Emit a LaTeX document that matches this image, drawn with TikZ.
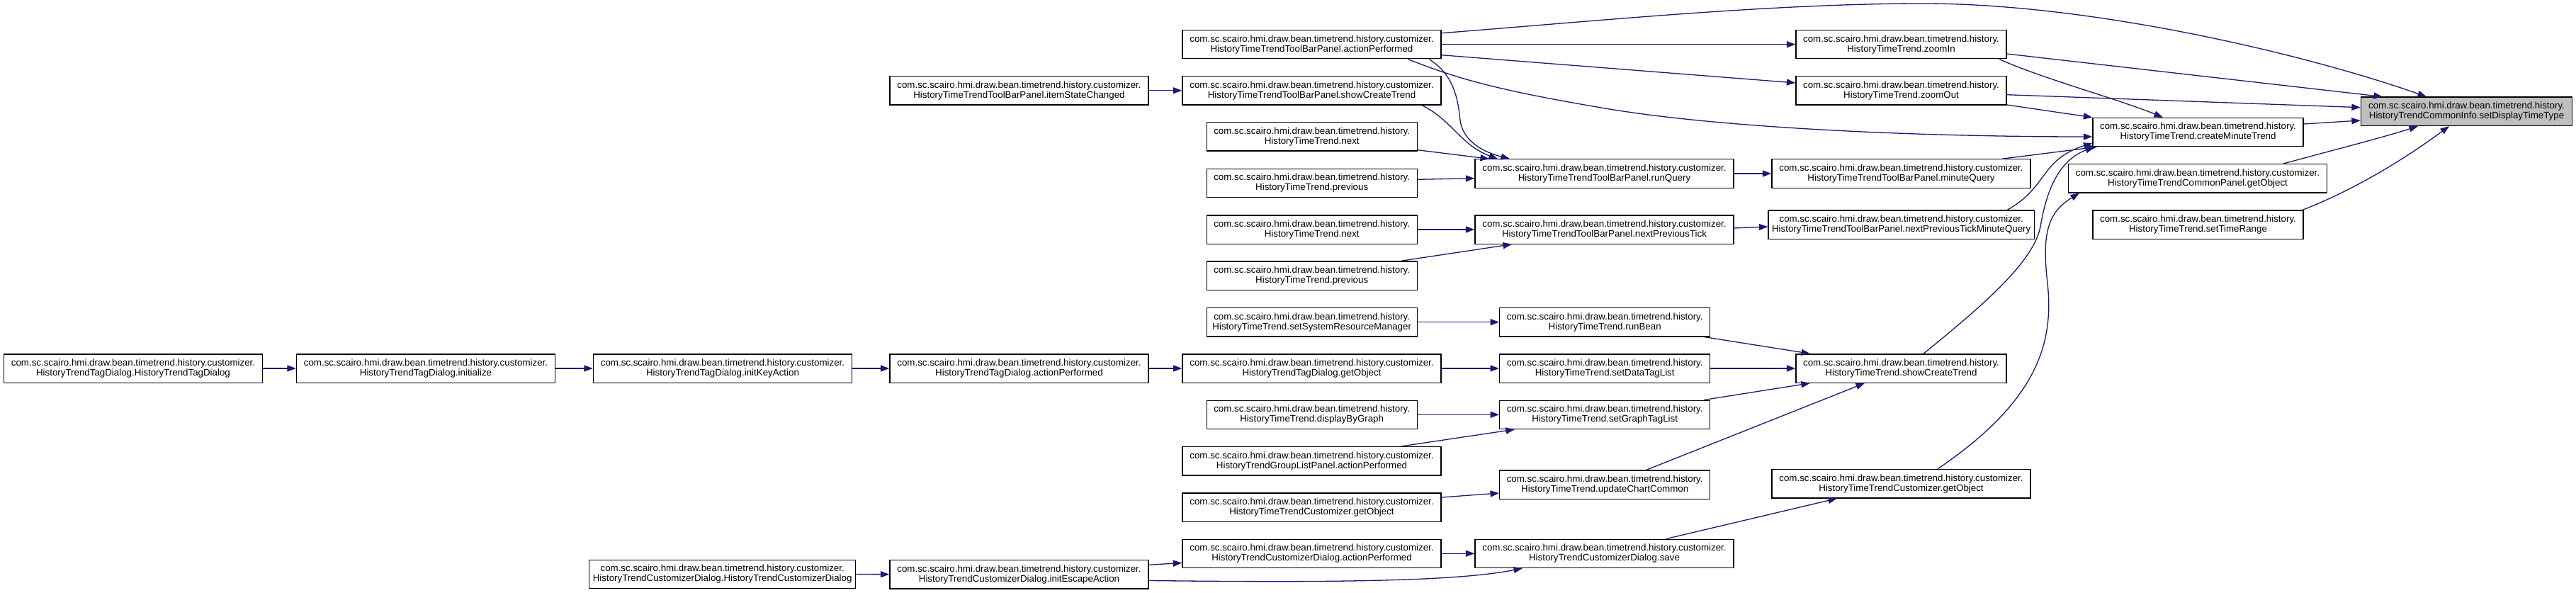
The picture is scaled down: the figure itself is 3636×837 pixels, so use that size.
\documentclass[tikz,border=0pt]{standalone}
\usepackage{fontspec}
\setmainfont{Liberation Sans}
\usetikzlibrary{arrows.meta}
\definecolor{edgeblue}{HTML}{191970}
\definecolor{hlgray}{HTML}{BFBFBF}
\newcommand\hpre{com.sc.scairo.hmi.draw.bean.timetrend.history.}
\newcommand\cpre{com.sc.scairo.hmi.draw.bean.timetrend.history.customizer.}
\begin{document}
\begin{tikzpicture}[x=1pt,y=-1pt,
  fnode/.style={draw=black, line width=1.3pt, fill=white, inner sep=0pt,
    minimum height=40.3pt, align=center, font=\fontsize{13.33}{14}\selectfont},
  wA/.style={fnode, minimum width=365pt},
  wB/.style={fnode, minimum width=297pt},
  edge/.style={draw=edgeblue, line width=1.3pt, -{Triangle[length=12.5pt,width=9pt]}}]
\useasboundingbox (0,0) rectangle (3636,837);
% column 1-4 (left)
\node[wA] (tdHTD) at (188,520) {\cpre\\HistoryTrendTagDialog.HistoryTrendTagDialog};
\node[wA] (tdInit) at (601,520) {\cpre\\HistoryTrendTagDialog.initialize};
\node[wA] (tdIKA) at (1020,520) {\cpre\\HistoryTrendTagDialog.initKeyAction};
\node[fnode, minimum width=376pt] (cdHTCD) at (1019.7,810.5) {\cpre\\HistoryTrendCustomizerDialog.HistoryTrendCustomizerDialog};
\node[wA] (tbISC) at (1438.5,127.8) {\cpre\\HistoryTimeTrendToolBarPanel.itemStateChanged};
\node[wA] (tdAP) at (1438.5,520) {\cpre\\HistoryTrendTagDialog.actionPerformed};
\node[wA] (cdIEA) at (1438.5,810.7) {\cpre\\HistoryTrendCustomizerDialog.initEscapeAction};
% column 5
\node[wA] (tbAP) at (1851.5,62.7) {\cpre\\HistoryTimeTrendToolBarPanel.actionPerformed};
\node[wA] (tbSCT) at (1851.5,127.8) {\cpre\\HistoryTimeTrendToolBarPanel.showCreateTrend};
\node[wB] (next1) at (1851.7,193) {\hpre\\HistoryTimeTrend.next};
\node[wB] (prev1) at (1851.7,258.5) {\hpre\\HistoryTimeTrend.previous};
\node[wB] (next2) at (1851.7,324) {\hpre\\HistoryTimeTrend.next};
\node[wB] (prev2) at (1851.7,389) {\hpre\\HistoryTimeTrend.previous};
\node[wB] (sSRM) at (1851.7,454.7) {\hpre\\HistoryTimeTrend.setSystemResourceManager};
\node[wA] (tdGO) at (1851.5,520) {\cpre\\HistoryTrendTagDialog.getObject};
\node[wB] (dBG) at (1851.7,585.3) {\hpre\\HistoryTimeTrend.displayByGraph};
\node[wA] (glpAP) at (1851.5,650.7) {\cpre\\HistoryTrendGroupListPanel.actionPerformed};
\node[wA] (custGOa) at (1851.5,716) {\cpre\\HistoryTimeTrendCustomizer.getObject};
\node[wA] (cdAP) at (1851.5,781.3) {\cpre\\HistoryTrendCustomizerDialog.actionPerformed};
% column 6
\node[wA] (runQ) at (2264.5,245) {\cpre\\HistoryTimeTrendToolBarPanel.runQuery};
\node[wA] (nPT) at (2264.5,324) {\cpre\\HistoryTimeTrendToolBarPanel.nextPreviousTick};
\node[wB] (runBean) at (2265.2,454.7) {\hpre\\HistoryTimeTrend.runBean};
\node[wB] (sDTL) at (2265.2,520) {\hpre\\HistoryTimeTrend.setDataTagList};
\node[wB] (sGTL) at (2265.2,585.3) {\hpre\\HistoryTimeTrend.setGraphTagList};
\node[wB] (uCC) at (2265.2,684) {\hpre\\HistoryTimeTrend.updateChartCommon};
\node[wA] (cdSave) at (2264.5,781.3) {\cpre\\HistoryTrendCustomizerDialog.save};
% column 7
\node[wB] (zoomIn) at (2683.5,62.7) {\hpre\\HistoryTimeTrend.zoomIn};
\node[wB] (zoomOut) at (2683.5,127.8) {\hpre\\HistoryTimeTrend.zoomOut};
\node[wA] (minQ) at (2683.5,245) {\cpre\\HistoryTimeTrendToolBarPanel.minuteQuery};
\node[fnode, minimum width=375.4pt] (nPTMQ) at (2683.7,317.2) {\cpre\\HistoryTimeTrendToolBarPanel.nextPreviousTickMinuteQuery};
\node[wB] (hSCT) at (2683.5,520) {\hpre\\HistoryTimeTrend.showCreateTrend};
\node[wA] (custGOb) at (2683.5,682.7) {\cpre\\HistoryTimeTrendCustomizer.getObject};
% column 8
\node[wB] (cMT) at (3102.5,186.5) {\hpre\\HistoryTimeTrend.createMinuteTrend};
\node[wA] (cpGO) at (3102,251.8) {\cpre\\HistoryTimeTrendCommonPanel.getObject};
\node[wB] (sTR) at (3102.5,317.2) {\hpre\\HistoryTimeTrend.setTimeRange};
% column 9
\node[fnode, fill=hlgray, minimum width=298pt] (sDTT) at (3481.5,157.3) {\hpre\\HistoryTrendCommonInfo.setDisplayTimeType};
% edges
\draw[edge] (tbAP.east |- 0,46.7) .. controls (2250,30) and (2500,5) .. (2715,5) .. controls (2950,5) and (3250,75) .. (3425,0 |- sDTT.north);
\draw[edge] (tbAP.east) -- (zoomIn.west);
\draw[edge] (tbAP.east |- 0,77.7) -- (zoomOut.west |- 0,117);
\draw[edge] (1987,0 |- tbAP.south) .. controls (2050,108) and (2100,125) .. (2260,152) .. controls (2420,180) and (2700,193) .. (cMT.west |- 0,193);
\draw[edge] (2017,0 |- tbAP.south) .. controls (2052,105) and (2058,140) .. (2061,170) .. controls (2065,200) and (2095,215) .. (2131,0 |- runQ.north);
\draw[edge] (2007,0 |- tbSCT.south) .. controls (2050,170) and (2062,205) .. (2114,0 |- runQ.north);
\draw[edge] (next1.east |- 0,211.7) -- (2102,0 |- runQ.north);
\draw[edge] (prev1.east |- 0,253.3) -- (runQ.west |- 0,251.7);
\draw[edge] (tbISC.east) -- (tbSCT.west);
\draw[edge] (next2.east) -- (nPT.west);
\draw[edge] (1978,0 |- prev2.north) -- (2134,0 |- nPT.south);
\draw[edge] (runQ.east) -- (minQ.west);
\draw[edge] (nPT.east |- 0,322) -- (nPTMQ.west |- 0,320);
\draw[edge] (zoomIn.east |- 0,76) -- (3363,0 |- sDTT.north);
\draw[edge] (2822,0 |- zoomIn.south) .. controls (2880,110) and (2990,140) .. (3053,0 |- cMT.north);
\draw[edge] (zoomOut.east |- 0,133.7) -- (sDTT.west |- 0,151.7);
\draw[edge] (zoomOut.east |- 0,148) -- (cMT.north west);
\draw[edge] (cMT.east |- 0,175) -- (sDTT.west |- 0,170);
\draw[edge] (2826,0 |- minQ.north) -- (2960,0 |- cMT.south);
\draw[edge] (2833,0 |- nPTMQ.north) .. controls (2890,265) and (2880,225) .. (cMT.west |- 0,202);
\draw[edge] (2715,0 |- hSCT.north) .. controls (2800,430) and (2870,370) .. (2880,320) .. controls (2890,260) and (2910,225) .. (2956,0 |- cMT.south);
\draw[edge] (2735,0 |- custGOb.north) .. controls (2870,570) and (2900,490) .. (2890,400) .. controls (2882,330) and (2890,300) .. (2935,0 |- cpGO.south);
\draw[edge] (3223,0 |- cpGO.north) .. controls (3300,210) and (3360,195) .. (3413,0 |- sDTT.south);
\draw[edge] (3250,0 |- sTR.north) .. controls (3330,265) and (3400,220) .. (3457,0 |- sDTT.south);
\draw[edge] (2405,0 |- runBean.south) -- (2555,0 |- hSCT.north);
\draw[edge] (sDTL.east) -- (hSCT.west);
\draw[edge] (2405,0 |- sGTL.north) -- (2555,0 |- hSCT.south);
\draw[edge] (2324,0 |- uCC.north) -- (2632,0 |- hSCT.south);
\draw[edge] (2352,0 |- cdSave.north) -- (2593,0 |- custGOb.south);
\draw[edge] (sSRM.east) -- (runBean.west);
\draw[edge] (tdGO.east) -- (sDTL.west);
\draw[edge] (dBG.east) -- (sGTL.west);
\draw[edge] (1978,0 |- glpAP.north) -- (2138,0 |- sGTL.south);
\draw[edge] (custGOa.east |- 0,702) -- (uCC.west |- 0,696);
\draw[edge] (cdAP.east) -- (cdSave.west);
\draw[edge] (cdIEA.east |- 0,797.3) -- (cdAP.west |- 0,794.5);
\draw[edge] (cdIEA.east |- 0,819.5) .. controls (1850,822) and (2050,822) .. (2149,0 |- cdSave.south);
\draw[edge] (cdHTCD.east) -- (cdIEA.west);
\draw[edge] (tdHTD.east) -- (tdInit.west);
\draw[edge] (tdInit.east) -- (tdIKA.west);
\draw[edge] (tdIKA.east) -- (tdAP.west);
\draw[edge] (tdAP.east) -- (tdGO.west);
\end{tikzpicture}
\end{document}
